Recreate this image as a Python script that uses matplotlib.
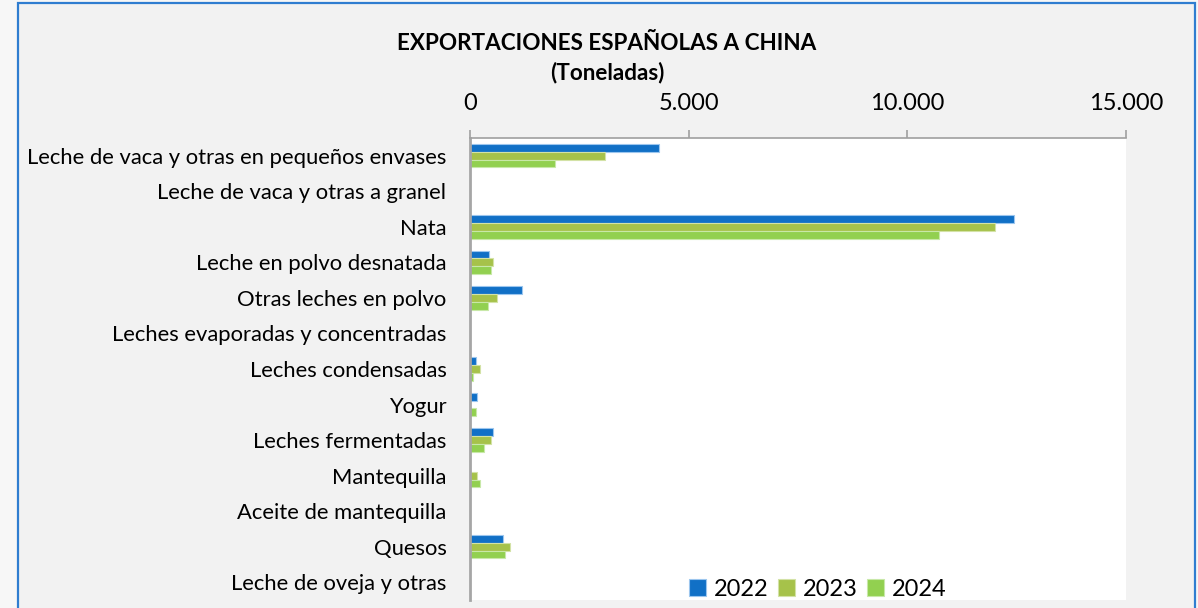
import numpy as np
import matplotlib.pyplot as plt
from matplotlib.patches import Rectangle
from matplotlib.ticker import FuncFormatter

plt.rcParams["font.family"] = ["Lato", "DejaVu Sans"]

# Export volumes (tonnes) by product
products = [
    'Leche de vaca y otras en pequeños envases',
    'Leche de vaca y otras a granel',
    'Nata',
    'Leche en polvo desnatada',
    'Otras leches en polvo',
    'Leches evaporadas y concentradas',
    'Leches condensadas',
    'Yogur',
    'Leches fermentadas',
    'Mantequilla',
    'Aceite de mantequilla',
    'Quesos',
    'Leche de oveja y otras',
]
years = ['2022', '2023', '2024']
exp_2022 = [4320, 0, 12450, 440, 1190, 0, 135, 150, 535, 0, 0, 755, 0]
exp_2023 = [3080, 0, 12010, 520, 610, 0, 235, 10, 470, 160, 0, 920, 0]
exp_2024 = [1940, 0, 10730, 485, 410, 0, 60, 130, 310, 225, 0, 805, 0]

colors = ['#1170C6', '#A6C24A', '#92D050']
edges = ['#9CC6EE', '#D3E2A6', '#C8E8A8']

W, H = 1198, 608
fig = plt.figure(figsize=(W / 100, H / 100), dpi=100, facecolor='#F7F7F7')

# Framed chart area
fig.patches.append(Rectangle((18 / W, -0.05), (1195 - 18) / W, 1 - 3 / H + 0.05,
                             transform=fig.transFigure, facecolor='#F2F2F2',
                             edgecolor='#2F7DD0', linewidth=1.6, zorder=-5))

ax = fig.add_axes([470 / W, 1 - 600 / H, (1126 - 470) / W, (600 - 138) / H])
ax.set_facecolor('white')

y = np.arange(len(products))
h = 0.22
for i, (vals, yr) in enumerate(zip([exp_2022, exp_2023, exp_2024], years)):
    ax.barh(y + (i - 1) * h, vals, height=h, color=colors[i], edgecolor=edges[i],
            linewidth=0.8, label=yr)

ax.set_xlim(0, 15000)
ax.set_ylim(len(products) - 0.5, -0.5)
ax.set_xticks([0, 5000, 10000, 15000])
ax.xaxis.set_major_formatter(FuncFormatter(lambda v, p: f'{int(v):,}'.replace(',', '.')))
ax.xaxis.tick_top()
ax.tick_params(axis='x', direction='out', length=6, width=1.2, color='#A0A0A0',
               labelsize=17, pad=11)
ax.set_yticks(y)
ax.set_yticklabels(products, fontsize=15.8)
ax.tick_params(axis='y', length=0, pad=17)

for s in ['right', 'bottom']:
    ax.spines[s].set_visible(False)
ax.spines['top'].set_color('#A0A0A0')
ax.spines['top'].set_linewidth(1.2)
ax.spines['left'].set_color('#A6A6A6')
ax.spines['left'].set_linewidth(2)

fig.text(607 / W, 1 - 43 / H, 'EXPORTACIONES ESPAÑOLAS A CHINA', ha='center', va='center',
         fontsize=16.2, fontweight='bold')
fig.text(607 / W, 1 - 73 / H, '(Toneladas)', ha='center', va='center',
         fontsize=16.2, fontweight='bold')

fig.legend(loc='center', bbox_to_anchor=(818 / W, 1 - 589 / H), ncol=3, frameon=False,
           fontsize=17, handlelength=0.7, handleheight=0.7, handletextpad=0.35,
           columnspacing=0.4)

plt.savefig('out.png', dpi=100, facecolor=fig.get_facecolor())
